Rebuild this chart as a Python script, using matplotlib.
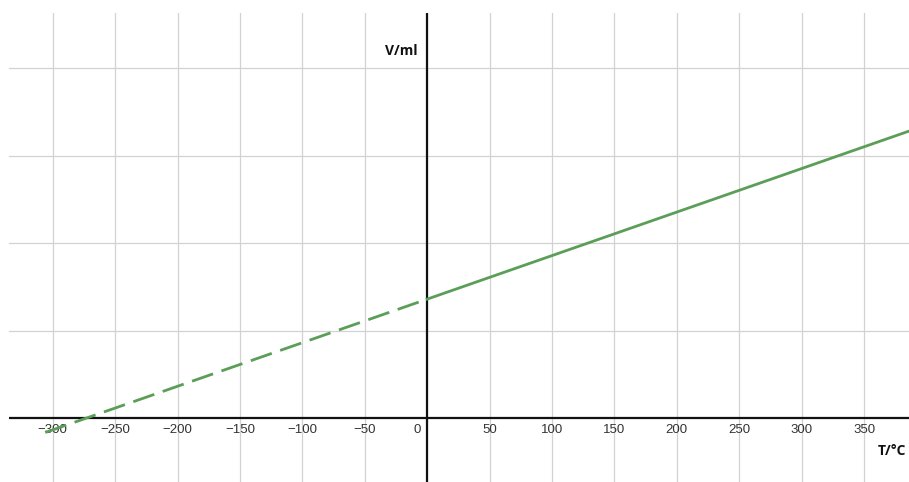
import numpy as np
from matplotlib import pyplot as plt
from matplotlib import transforms

# V-T line (Charles' law), gridline step = 1 unit on the V axis
t_dashed = [-306, 0]
v_dashed = [-0.164, 1.36]
t_solid = [0, 390]
v_solid = [1.36, 3.30]

x_ticks = [-300, -250, -200, -150, -100, -50, 0, 50, 100, 150, 200, 250, 300, 350]
y_grid = [1, 2, 3, 4]

fig = plt.figure(figsize=(9.09, 4.82), dpi=100)
ax = fig.add_axes([9/909, 0, 900/909, 469/482])
ax.set_xlim(-335, 386)
ax.set_ylim(-0.73, 4.63)

for s in ax.spines.values():
    s.set_visible(False)

ax.set_yticks(y_grid)
ax.set_yticklabels([])
ax.tick_params(axis='y', length=0)
ax.set_xticks(x_ticks)
ax.set_xticklabels([str(t).replace('-', '\u2212') for t in x_ticks],
                   fontsize=9.5, color='#333333', family='Liberation Sans')
ax.tick_params(axis='x', length=0, pad=0)
ax.grid(color='#d2d2d2', linewidth=0.9)
ax.set_axisbelow(True)

# put tick labels just below the x axis line
for lab in ax.get_xticklabels():
    lab.set_transform(ax.get_xaxis_transform() + transforms.ScaledTranslation(0, -0.06, fig.dpi_scale_trans))
    lab.set_y((0 - (-0.73)) / (4.63 + 0.73))
    lab.set_verticalalignment('top')
zero_lab = ax.get_xticklabels()[x_ticks.index(0)]
zero_lab.set_transform(zero_lab.get_transform() + transforms.ScaledTranslation(-0.1, 0, fig.dpi_scale_trans))

ax.axhline(0, color='#111111', linewidth=1.6)
ax.axvline(0, color='#111111', linewidth=1.6)

ax.plot(t_dashed, v_dashed, color='#5a9e57', linewidth=2, dashes=(8, 3.2))
ax.plot(t_solid, v_solid, color='#5a9e57', linewidth=2)

ax.text(-8, 4.2, 'V/ml', fontsize=10, fontweight='bold', family='Open Sans',
        ha='right', va='center', color='#111111')
ax.text(384, -0.38, 'T/°C', fontsize=10, fontweight='bold', family='Open Sans',
        ha='right', va='center', color='#111111')

fig.savefig('out.png', dpi=100)
